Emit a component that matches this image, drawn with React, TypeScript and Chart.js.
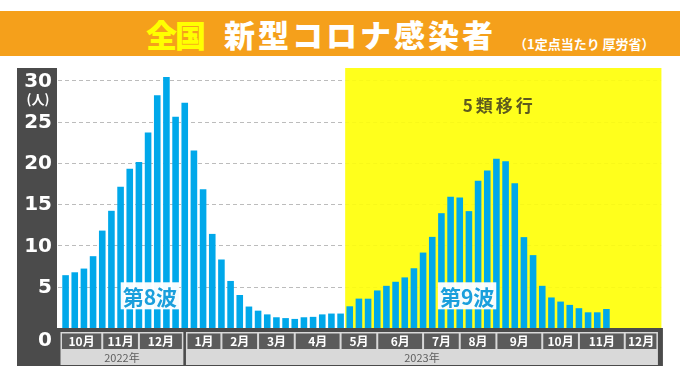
import React, { useEffect, useRef } from 'react';
import { Chart, registerables } from 'chart.js';

Chart.register(...registerables);

// Weekly categories (week starting)
const weeks = [
  '2022/10/3', '10/10', '10/17', '10/24', '10/31', '11/7', '11/14', '11/21', '11/28',
  '12/5', '12/12', '12/19', '12/26',
  '2023/1/2', '1/9', '1/16', '1/23', '1/30', '2/6', '2/13', '2/20', '2/27',
  '3/6', '3/13', '3/20', '3/27', '4/3', '4/10', '4/17', '4/24', '5/1', '5/8',
  '5/15', '5/22', '5/29', '6/5', '6/12', '6/19', '6/26', '7/3', '7/10', '7/17',
  '7/24', '7/31', '8/7', '8/14', '8/21', '8/28', '9/4', '9/11', '9/18', '9/25',
  '10/2', '10/9', '10/16', '10/23', '10/30', '11/6', '11/13', '11/20', '11/27',
  '12/4', '12/11', '12/18', '12/25', '2024/1/1',
];

// Cases per sentinel site
const cases = [
  6.4, 6.75, 7.2, 8.7, 11.8, 14.2, 17.1, 19.3, 20.1, 23.7, 28.2, 30.4, 25.6, 27.3,
  21.5, 16.8, 11.4, 8.3, 5.7, 4.0, 2.6, 2.1, 1.65, 1.3, 1.2, 1.1, 1.3, 1.35, 1.65,
  1.75, 1.75, 2.63, 3.56, 3.55, 4.55, 5.11, 5.6, 6.13, 7.24, 9.14, 11.04, 13.91,
  15.91, 15.81, 14.16, 17.84, 19.07, 20.5, 20.19, 17.54, 11.01, 8.83, 5.11, 3.7,
  3.2, 2.8, 2.4, 1.9, 1.9, 2.3,
];

const yTicks = [0, 5, 10, 15, 20, 25, 30];
const yUnit = '(人)';

const monthLabels = ['10月', '11月', '12月', '1月', '2月', '3月', '4月', '5月', '6月', '7月', '8月', '9月', '10月', '11月', '12月'];
// month boundaries expressed in bar-index units
const monthEdges = [-0.5, 4, 8, 13, 17, 21, 25, 30, 34, 39, 43, 47, 52, 56, 61, 65];
const yearLabels = ['2022年', '2023年'];
const yearMonthSplit = [0, 3, 15];

const phaseStart = 30.5;
const phaseLabel = { text: '5類移行', x: 47.3, y: 26.9 };
const waveLabels = [
  { text: '第8波', x: 9.2, y: 3.9 },
  { text: '第9波', x: 43.8, y: 3.9 },
];

const BAR = '#00a8ea';
const DARK = '#4b4b4b';

const deco = {
  id: 'deco',
  beforeDraw(chart: any) {
    const { ctx, scales } = chart;
    const x = scales.x, y = scales.y;
    const x0 = x.getPixelForValue(0);
    const slot = x.getPixelForValue(1) - x0;
    const px = (f: number) => x0 + f * slot;
    const top = y.getPixelForValue(y.max);
    const base = y.getPixelForValue(0);
    const right = px(monthEdges[monthEdges.length - 1]);
    const ys = px(phaseStart);
    ctx.save();
    ctx.fillStyle = '#ffffff';
    ctx.fillRect(0, 0, chart.width, chart.height);
    // left dark panel + bottom band
    ctx.fillStyle = DARK;
    ctx.fillRect(17, top, 40, 366 - top);
    ctx.fillRect(17, base, right + 1.5 - 17, 366 - base);
    // yellow phase region
    ctx.fillStyle = '#ffff1c';
    ctx.fillRect(ys, top, right - ys, base - top);
    // grid lines
    ctx.lineWidth = 1;
    ctx.setLineDash([4, 3]);
    for (const v of yTicks) {
      if (v === 0) continue;
      const py = Math.round(y.getPixelForValue(v)) + 0.5;
      ctx.strokeStyle = '#bcbcbc';
      ctx.beginPath();
      ctx.moveTo(58, py);
      ctx.lineTo(ys, py);
      ctx.stroke();
      ctx.strokeStyle = 'rgba(160,160,0,0.08)';
      ctx.beginPath();
      ctx.moveTo(ys, py);
      ctx.lineTo(right, py);
      ctx.stroke();
    }
    ctx.restore();
  },
  afterDatasetsDraw(chart: any) {
    const { ctx, scales } = chart;
    const x = scales.x, y = scales.y;
    const x0 = x.getPixelForValue(0);
    const slot = x.getPixelForValue(1) - x0;
    const px = (f: number) => x0 + f * slot;
    const base = y.getPixelForValue(0);
    ctx.save();
    // wave labels
    ctx.font = 'bold 21px "Noto Sans CJK JP"';
    ctx.textAlign = 'center';
    ctx.textBaseline = 'middle';
    for (const w of waveLabels) {
      const cx = px(w.x);
      const cy = y.getPixelForValue(w.y);
      const tw = ctx.measureText(w.text).width;
      ctx.fillStyle = 'rgba(255,255,255,0.96)';
      ctx.fillRect(cx - tw / 2 - 2, cy - 13.5, tw + 4, 27);
      ctx.fillStyle = '#1a9fdc';
      ctx.fillText(w.text, cx, cy + 1);
    }
    // phase label
    ctx.font = 'bold 17px "Noto Sans CJK JP"';
    (ctx as any).letterSpacing = '3px';
    ctx.fillStyle = '#5d5a1f';
    ctx.fillText(phaseLabel.text, px(phaseLabel.x), y.getPixelForValue(phaseLabel.y));
    (ctx as any).letterSpacing = '0px';

    // y tick labels
    ctx.fillStyle = '#ffffff';
    ctx.textAlign = 'right';
    ctx.font = 'bold 20px "DejaVu Sans"';
    for (const v of yTicks) {
      const py = v === 0 ? base + 13 : y.getPixelForValue(v) + 1;
      ctx.fillText(String(v), 52, py);
    }
    ctx.textAlign = 'center';
    ctx.font = 'bold 13px "Noto Sans CJK JP"';
    ctx.fillText(yUnit, 38, y.getPixelForValue(yTicks[yTicks.length - 1]) + 19);

    // bottom month / year axis
    for (let g = 0; g < yearLabels.length; g++) {
      const m0 = yearMonthSplit[g], m1 = yearMonthSplit[g + 1];
      const gx0 = px(monthEdges[m0]) + (g === 0 ? -0.5 : 1.2);
      const gx1 = px(monthEdges[m1]) - (g === yearLabels.length - 1 ? 3.5 : 1.4);
      ctx.fillStyle = '#d9d9d9';
      ctx.fillRect(gx0, base + 4, gx1 - gx0, 33);
      for (let m = m0; m < m1; m++) {
        const bx0 = Math.max(gx0 + 1.5, px(monthEdges[m]) + 1);
        const bx1 = Math.min(gx1 - 1.5, px(monthEdges[m + 1]) - 1);
        ctx.fillStyle = '#5b5b5b';
        ctx.fillRect(bx0, base + 5.5, bx1 - bx0, 15.5);
        ctx.fillStyle = '#ffffff';
        ctx.font = 'bold 12px "Noto Sans CJK JP"';
        ctx.fillText(monthLabels[m], (bx0 + bx1) / 2, base + 13.5);
      }
      ctx.fillStyle = '#5e5e5e';
      ctx.font = '11px "Noto Sans CJK JP"';
      ctx.fillText(yearLabels[g], (gx0 + gx1) / 2, base + 29.5);
    }
    ctx.restore();
  },
};

export default function App() {
  const ref = useRef<HTMLCanvasElement>(null);
  useEffect(() => {
    if (!ref.current) return;
    const chart = new Chart(ref.current, {
      type: 'bar',
      data: {
        labels: weeks,
        datasets: [
          {
            data: cases,
            backgroundColor: BAR,
            borderWidth: 0,
            barPercentage: 0.72,
            categoryPercentage: 1,
          },
        ],
      },
      options: {
        responsive: false,
        animation: false,
        devicePixelRatio: 1,
        layout: { padding: { left: 61, right: 14, top: 68, bottom: 54 } },
        plugins: { legend: { display: false }, tooltip: { enabled: false }, title: { display: false } },
        scales: {
          x: { display: false, offset: true, grid: { display: false } },
          y: { display: false, min: 0, max: 31.5 },
        },
      },
      plugins: [deco],
    });
    return () => chart.destroy();
  }, []);

  const titleFont = '"Noto Sans CJK JP", "Noto Sans", sans-serif';
  return (
    <div style={{ position: 'fixed', left: 0, top: 0, width: 680, height: 382, background: '#fff', overflow: 'hidden' }}>
      <canvas ref={ref} width={680} height={382} style={{ position: 'absolute', left: 0, top: 0, width: 680, height: 382 }} />
      <div style={{ position: 'absolute', left: 0, top: 11, width: 680, height: 45, background: '#f5a01b', fontFamily: titleFont }}>
        <span style={{ position: 'absolute', left: 146, top: 4, fontSize: 31, fontWeight: 900, color: '#ffff00', letterSpacing: -2, lineHeight: '38px', whiteSpace: 'nowrap' }}>全国</span>
        <span style={{ position: 'absolute', left: 224, top: 4, fontSize: 31, fontWeight: 900, color: '#ffffff', letterSpacing: 3, lineHeight: '38px', whiteSpace: 'nowrap' }}>新型コロナ感染者</span>
        <span style={{ position: 'absolute', left: 514, top: 25, fontSize: 13, fontWeight: 700, color: '#ffffff', lineHeight: '16px', whiteSpace: 'nowrap' }}>（1定点当たり 厚労省）</span>
      </div>
    </div>
  );
}
